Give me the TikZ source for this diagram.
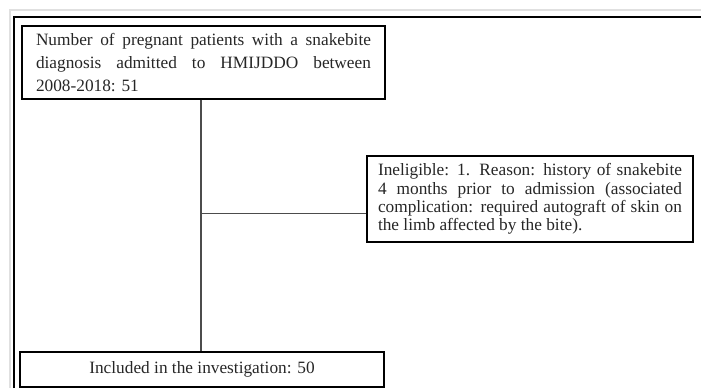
\documentclass[tikz,border=0pt]{standalone}
\usepackage{fontspec}
\setmainfont{Liberation Serif}
\usetikzlibrary{calc}

\begin{document}
\begin{tikzpicture}[x=1pt, y=-1pt,
    box/.style={draw, line width=1.3pt, inner sep=0pt, text=black!85},
    link/.style={draw=black!70, line width=1.5pt}]
      \useasboundingbox (0, 0) rectangle (701, 388);
      % Page frame
      \draw[black!12, line width=1.5pt] (10, 388) -- (10, 10) -- (701, 10);
      \draw[line width=2pt] (14, 388) -- (14, 17) -- (701, 17);

      % Boxes
      \node[box, minimum width=363pt, minimum height=73pt, text width=335pt, align=justify,
            font=\fontsize{17.3}{23}\selectfont] (total) at (203.5, 62.5)
        {\hyphenpenalty=10000 Number of pregnant patients with a snakebite\linebreak diagnosis admitted to HMIJDDO between\linebreak 2008-2018: 51};
      \node[box, minimum width=326pt, minimum height=86pt, text width=304pt, align=justify,
            font=\fontsize{17.3}{18.2}\selectfont] (inelig) at (530, 199)
        {\hyphenpenalty=10000 Ineligible: 1. Reason: history of snakebite\linebreak 4 months prior to admission (associated\linebreak complication: required autograft of skin on\linebreak the limb affected by the bite).};
      \node[box, minimum width=364pt, minimum height=35pt, align=center,
            font=\fontsize{17.3}{21}\selectfont] (incl) at (202, 369.5)
        {Included in the investigation: 50};

      % Links
      \coordinate (split) at (201, 213.5);
      \draw[link] (total.south -| split) -- (incl.north -| split);
      \draw[link] (split) -- (split -| inelig.west);
    \end{tikzpicture}
\end{document}
